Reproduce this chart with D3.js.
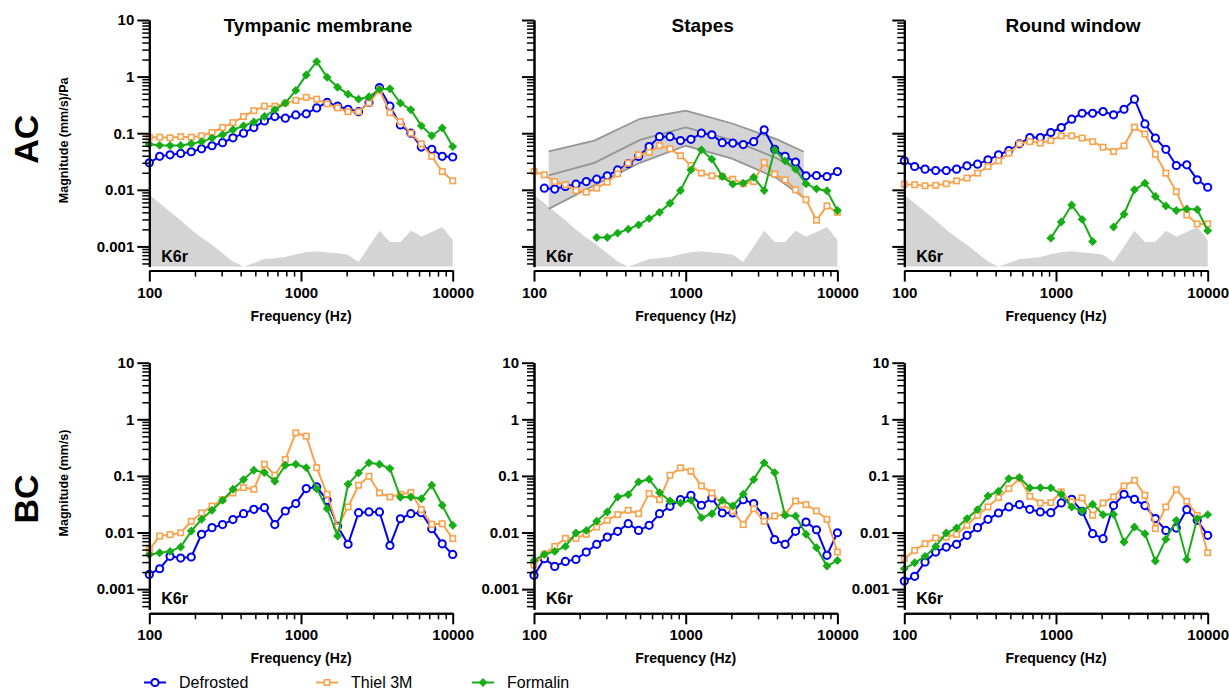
<!DOCTYPE html>
<html>
<head>
<meta charset="utf-8">
<script src="https://d3js.org/d3.v7.min.js"></script>
<style>
body { margin: 0; background: #fff; }
text { font-family: "Liberation Sans", Arial, sans-serif; }
</style>
</head>
<body>
<div id="chart-area"></div>
<script>
// frequency points (Hz), same for every panel
var freqs = [100, 117, 137, 161, 189, 221, 259, 304, 356, 418, 489, 574, 672, 788, 924,
    1083, 1269, 1487, 1743, 2043, 2395, 2807, 3290, 3857, 4520, 5298, 6210, 7279, 8532, 10000];

// noise floor (gray area), AC panels
var noiseFloor = [0.0082, 0.0058, 0.0041, 0.0029, 0.00197, 0.00144, 0.00107, 0.00076, 0.00054, 0.00044,
    0.00051, 0.0006, 0.00062, 0.00065, 0.00073, 0.00079, 0.00082, 0.00078, 0.00076, 0.00071,
    0.00053, 0.001, 0.0019, 0.0012, 0.0012, 0.0019, 0.0015, 0.0018, 0.0022, 0.0013];

// ASTM stapes reference range
var bandFreqs = [125, 250, 500, 1000, 2000, 4000, 6000];
var bandUpper = [0.048, 0.074, 0.18, 0.25, 0.15, 0.078, 0.047];
var bandMid = [0.018, 0.030, 0.076, 0.127, 0.076, 0.036, 0.019];
var bandLower = [0.0046, 0.012, 0.030, 0.060, 0.036, 0.016, 0.0072];

// AC - tympanic membrane
var acTmDefrosted = [0.030, 0.039, 0.0415, 0.044, 0.047, 0.053, 0.060, 0.068, 0.083, 0.10, 0.126, 0.165, 0.197, 0.184, 0.21,
    0.22, 0.28, 0.35, 0.30, 0.265, 0.24, 0.35, 0.64, 0.30, 0.14, 0.10, 0.057, 0.052, 0.039, 0.038];
var acTmThiel = [0.085, 0.085, 0.083, 0.087, 0.085, 0.090, 0.103, 0.126, 0.154, 0.197, 0.25, 0.30, 0.30, 0.34, 0.38,
    0.43, 0.40, 0.33, 0.28, 0.24, 0.24, 0.34, 0.58, 0.23, 0.16, 0.10, 0.065, 0.039, 0.021, 0.0144];
var acTmFormalin = [0.064, 0.061, 0.0605, 0.0605, 0.065, 0.071, 0.082, 0.094, 0.115, 0.135, 0.158, 0.197, 0.26, 0.34, 0.57,
    1.07, 1.84, 0.97, 0.65, 0.49, 0.40, 0.44, 0.60, 0.61, 0.34, 0.26, 0.135, 0.090, 0.124, 0.058];

// AC - stapes
var acStDefrosted = [null, 0.0107, 0.0103, 0.0115, 0.0126, 0.014, 0.0154, 0.0177, 0.0225, 0.0288, 0.0388, 0.058, 0.087, 0.087, 0.074,
    0.078, 0.1, 0.094, 0.068, 0.067, 0.063, 0.071, 0.115, 0.052, 0.039, 0.031, 0.0177, 0.0179, 0.0172, 0.021];
var acStThiel = [0.021, 0.0184, 0.014, 0.0123, 0.0097, 0.0091, 0.0107, 0.0137, 0.0192, 0.0296, 0.0415, 0.046, 0.0605, 0.053, 0.040,
    0.0269, 0.0197, 0.0177, 0.0172, 0.0154, 0.0128, 0.014, 0.0304, 0.0189, 0.015, 0.010, 0.0067, 0.0029, 0.0052, 0.0040];
var acStFormalin = [null, null, null, null, null, null, 0.00144, 0.00144, 0.00172, 0.00202, 0.0024, 0.0031, 0.0040, 0.0058, 0.0097,
    0.0225, 0.0508, 0.0348, 0.0172, 0.0126, 0.0131, 0.0167, 0.0097, 0.0508, 0.0325, 0.0232, 0.0128, 0.0104, 0.0096, 0.0043];

// AC - round window
var acRwDefrosted = [0.0325, 0.0258, 0.0232, 0.0219, 0.0219, 0.0232, 0.0265, 0.0284, 0.0338, 0.0415, 0.0494, 0.065, 0.084, 0.084, 0.103,
    0.126, 0.177, 0.225, 0.225, 0.241, 0.211, 0.265, 0.40, 0.146, 0.082, 0.052, 0.0269, 0.0276, 0.015, 0.0111];
var acRwThiel = [0.0126, 0.0123, 0.0118, 0.012, 0.0128, 0.0144, 0.0161, 0.0197, 0.0258, 0.0325, 0.0444, 0.065, 0.071, 0.067, 0.074,
    0.090, 0.090, 0.082, 0.071, 0.0566, 0.0475, 0.0598, 0.128, 0.097, 0.0426, 0.0197, 0.0093, 0.0036, 0.0025, 0.0025];
var acRwFormalin = [null, null, null, null, null, null, null, null, null, null, null, null, null, null, 0.0014,
    0.0027, 0.0054, 0.003, 0.00122, null, 0.0022, 0.0037, 0.010, 0.0131, 0.0076, 0.0052, 0.0043, 0.0046, 0.0045, 0.0019];

// BC - tympanic membrane
var bcTmDefrosted = [0.00182, 0.00229, 0.00379, 0.00354, 0.00369, 0.0093, 0.0122, 0.0138, 0.0169, 0.0215, 0.0257, 0.0275, 0.0138, 0.024, 0.0324,
    0.0597, 0.0638, 0.037, 0.0129, 0.0062, 0.0224, 0.0231, 0.0231, 0.0059, 0.0175, 0.0215, 0.0224, 0.0117, 0.0063, 0.0041];
var bcTmThiel = [0.00497, 0.00867, 0.00916, 0.0099, 0.0158, 0.0221, 0.0294, 0.0381, 0.050, 0.0622, 0.058, 0.161, 0.103, 0.195, 0.577,
    0.503, 0.140, 0.0474, 0.0125, 0.0283, 0.0684, 0.0986, 0.050, 0.0425, 0.0474, 0.0507, 0.0254, 0.014, 0.0143, 0.0078];
var bcTmFormalin = [0.00405, 0.0044, 0.00464, 0.00554, 0.0106, 0.0171, 0.0247, 0.037, 0.058, 0.0861, 0.126, 0.1145, 0.0805, 0.1545, 0.161,
    0.140, 0.0597, 0.0264, 0.00867, 0.0713, 0.113, 0.17, 0.161, 0.135, 0.0419, 0.0425, 0.0396, 0.0684, 0.0303, 0.0134];

// BC - stapes
var bcStDefrosted = [0.00175, 0.00344, 0.00252, 0.00309, 0.00335, 0.00452, 0.00618, 0.0083, 0.0105, 0.0143, 0.0109, 0.0134, 0.0215, 0.029, 0.0381,
    0.0455, 0.0303, 0.0408, 0.0221, 0.0221, 0.0381, 0.0324, 0.0193, 0.00746, 0.00618, 0.0105, 0.0153, 0.0112, 0.00395, 0.0099];
var bcStThiel = [0.00266, 0.00416, 0.00569, 0.00789, 0.00789, 0.0093, 0.0125, 0.0164, 0.0207, 0.0247, 0.0215, 0.0487, 0.0381, 0.103, 0.1387,
    0.121, 0.0665, 0.050, 0.0311, 0.024, 0.0138, 0.0264, 0.0158, 0.0196, 0.021, 0.0361, 0.0311, 0.024, 0.0171, 0.00452];
var bcStFormalin = [0.00321, 0.00411, 0.00464, 0.00569, 0.0098, 0.0109, 0.0158, 0.0231, 0.0425, 0.0468, 0.0783, 0.0873, 0.0507, 0.0361, 0.0333,
    0.037, 0.0183, 0.0215, 0.037, 0.0294, 0.0474, 0.0861, 0.17, 0.1145, 0.0201, 0.0196, 0.0093, 0.0054, 0.00255, 0.00321];

// BC - round window
var bcRwDefrosted = [0.00139, 0.00168, 0.00301, 0.00452, 0.00554, 0.00618, 0.00891, 0.0122, 0.0171, 0.0221, 0.0283, 0.0311, 0.0257, 0.0231, 0.0224,
    0.0333, 0.0386, 0.0237, 0.00953, 0.00778, 0.0299, 0.0474, 0.0386, 0.0299, 0.0176, 0.0109, 0.012, 0.0254, 0.0164, 0.00891];
var bcRwThiel = [0.00344, 0.00483, 0.00634, 0.008, 0.0083, 0.0093, 0.0134, 0.0201, 0.0283, 0.0414, 0.0597, 0.0897, 0.0436, 0.0333, 0.0337,
    0.0521, 0.0347, 0.0408, 0.0201, 0.0333, 0.0425, 0.0665, 0.0837, 0.0455, 0.0117, 0.0283, 0.0573, 0.0356, 0.0201, 0.0044];
var bcRwFormalin = [0.00229, 0.00292, 0.00379, 0.00569, 0.0098, 0.012, 0.0176, 0.0254, 0.0443, 0.0536, 0.0897, 0.0935, 0.0614, 0.062, 0.0614,
    0.0474, 0.0283, 0.024, 0.0316, 0.0207, 0.021, 0.0068, 0.0125, 0.00953, 0.00313, 0.00757, 0.0164, 0.00335, 0.0176, 0.0207];

var titles = ["Tympanic membrane", "Stapes", "Round window"];
var rowNames = ["AC", "BC"];
var yLabels = ["Magnitude (mm/s)/Pa", "Magnitude (mm/s)"];
var groupNames = ["Defrosted", "Thiel 3M", "Formalin"];
var xMajor = [100, 1000, 10000];
var yMajor = [0.001, 0.01, 0.1, 1, 10];

var colors = ["#0000f0", "#f8a24e", "#16ad16"];
var shapes = ["circle", "square", "diamond"];

var panelData = [
    [[acTmDefrosted, acTmThiel, acTmFormalin], [acStDefrosted, acStThiel, acStFormalin], [acRwDefrosted, acRwThiel, acRwFormalin]],
    [[bcTmDefrosted, bcTmThiel, bcTmFormalin], [bcStDefrosted, bcStThiel, bcStFormalin], [bcRwDefrosted, bcRwThiel, bcRwFormalin]]
];

// layout
var colLeft = [149.3, 534, 904.3];
var plotW = 303.4;
var rowTop = [20, 362.7];
var plotH = 246.6;
var yMin = 0.00044;

var svg = d3.select("#chart-area").append("svg")
    .attr("width", 1229)
    .attr("height", 691);

// minor ticks
var yMinor = [];
[-4, -3, -2, -1, 0].forEach(function (k) {
    for (var m = 2; m <= 9; m++) {
        var v = +(m * Math.pow(10, k)).toPrecision(3);
        if (v >= yMin && v <= 10) yMinor.push(v);
    }
});
var xMinor = [200, 300, 400, 500, 600, 700, 800, 900, 2000, 3000, 4000, 5000, 6000, 7000, 8000, 9000];

function drawMarker(sel, shape, color) {
    if (shape == "circle") {
        sel.append("circle").attr("r", 3.6)
            .attr("fill", "#fff").attr("stroke", color).attr("stroke-width", 2);
    } else if (shape == "square") {
        sel.append("rect").attr("x", -2.7).attr("y", -2.7).attr("width", 5.4).attr("height", 5.4)
            .attr("fill", "#fff").attr("stroke", color).attr("stroke-width", 1.6);
    } else {
        sel.append("path").attr("d", d3.symbol().type(d3.symbolSquare).size(28)())
            .attr("transform", "rotate(45)")
            .attr("fill", color).attr("stroke", color).attr("stroke-width", 1);
    }
}

function styleAxis(ax) {
    ax.selectAll("path, line").attr("stroke", "#000").attr("stroke-width", 2);
    ax.selectAll("text").attr("fill", "#000")
        .style("font-size", "15px").style("font-weight", "bold");
}

function drawPanel(row, col) {
    var g = svg.append("g")
        .attr("transform", "translate(" + colLeft[col] + "," + rowTop[row] + ")");

    var x = d3.scaleLog().domain([100, 10000]).range([0, plotW]);
    var y = d3.scaleLog().domain([yMin, 10]).range([plotH, 0]).clamp(true);

    // noise floor and stapes band (AC only)
    if (row == 0) {
        var area = d3.area()
            .x(function (d, i) { return x(freqs[i]); })
            .y0(plotH)
            .y1(function (d) { return y(d); });
        g.append("path").datum(noiseFloor)
            .attr("d", area).attr("fill", "#d4d4d4");

        if (col == 1) {
            var band = d3.area()
                .x(function (d, i) { return x(bandFreqs[i]); })
                .y0(function (d, i) { return y(bandLower[i]); })
                .y1(function (d) { return y(d); });
            g.append("path").datum(bandUpper)
                .attr("d", band).attr("fill", "#d4d4d4");
            var bandLine = d3.line()
                .x(function (d, i) { return x(bandFreqs[i]); })
                .y(function (d) { return y(d); });
            [bandUpper, bandMid, bandLower].forEach(function (b) {
                g.append("path").datum(b)
                    .attr("d", bandLine).attr("fill", "none")
                    .attr("stroke", "#959595").attr("stroke-width", 1.8);
            });
        }
    }

    // series
    var line = d3.line()
        .defined(function (d) { return d != null; })
        .x(function (d, i) { return x(freqs[i]); })
        .y(function (d) { return y(d); });

    panelData[row][col].forEach(function (values, s) {
        g.append("path").datum(values)
            .attr("d", line).attr("fill", "none")
            .attr("stroke", colors[s]).attr("stroke-width", 2);
        var pts = values.map(function (v, i) { return { f: freqs[i], v: v }; })
            .filter(function (d) { return d.v != null; });
        var m = g.selectAll(".m" + s).data(pts).enter()
            .append("g")
            .attr("class", "m" + s)
            .attr("transform", function (d) { return "translate(" + x(d.f) + "," + y(d.v) + ")"; });
        drawMarker(m, shapes[s], colors[s]);
    });

    // y axis
    var showY = (row == 1 || col == 0);
    var yAxisCall = d3.axisLeft(y)
        .tickValues(yMajor)
        .tickSize(12).tickSizeOuter(0).tickPadding(3)
        .tickFormat(function (d) { return showY ? String(d) : ""; });
    styleAxis(g.append("g").call(yAxisCall));
    var yMinorAxis = g.append("g")
        .call(d3.axisLeft(y).tickValues(yMinor).tickSize(7).tickSizeOuter(0).tickFormat(""));
    styleAxis(yMinorAxis);
    yMinorAxis.selectAll("line").attr("stroke-width", 1.5);

    // x axis
    var xAxisGroup = g.append("g").attr("transform", "translate(0," + (plotH + 4) + ")");
    styleAxis(xAxisGroup.call(d3.axisBottom(x)
        .tickValues(xMajor).tickSize(11).tickSizeOuter(0).tickPadding(5.5)
        .tickFormat(d3.format("d"))));
    var xMinorAxis = xAxisGroup.append("g")
        .call(d3.axisBottom(x).tickValues(xMinor).tickSize(6).tickSizeOuter(0).tickFormat(""));
    styleAxis(xMinorAxis);
    xMinorAxis.selectAll("line").attr("stroke-width", 1.5);

    g.append("text")
        .attr("x", plotW / 2).attr("y", plotH + 54)
        .attr("text-anchor", "middle")
        .style("font-size", "14px").style("font-weight", "bold")
        .text("Frequency (Hz)");

    g.append("text")
        .attr("x", 12).attr("y", plotH - 5)
        .style("font-size", "16px").style("font-weight", "bold")
        .text("K6r");

    if (row == 0) {
        g.append("text")
            .attr("x", plotW / 2 + 17).attr("y", 12.3)
            .attr("text-anchor", "middle")
            .style("font-size", "19px").style("font-weight", "bold")
            .text(titles[col]);
    }

    if (col == 0) {
        g.append("text")
            .attr("transform", "translate(-81," + (plotH / 2 - 3) + ") rotate(-90)")
            .attr("text-anchor", "middle")
            .style("font-size", "12.5px").style("font-weight", "bold")
            .text(yLabels[row]);
        g.append("text")
            .attr("transform", "translate(-111.5," + (plotH / 2 + (row == 0 ? -4 : 13)) + ") rotate(-90)")
            .attr("text-anchor", "middle")
            .style("font-size", "34px").style("font-weight", "bold")
            .text(rowNames[row]);
    }
}

[0, 1].forEach(function (row) {
    [0, 1, 2].forEach(function (col) { drawPanel(row, col); });
});

// legend
var legendX = [144, 316, 472];
groupNames.forEach(function (name, s) {
    var lg = svg.append("g").attr("transform", "translate(" + legendX[s] + ",682.5)");
    lg.append("line").attr("x1", 0).attr("x2", 22)
        .attr("stroke", colors[s]).attr("stroke-width", 2);
    drawMarker(lg.append("g").attr("transform", "translate(11,0)"), shapes[s], colors[s]);
    lg.append("text")
        .attr("x", 35).attr("y", 5.3)
        .style("font-size", "16px")
        .text(name);
});
</script>
</body>
</html>
